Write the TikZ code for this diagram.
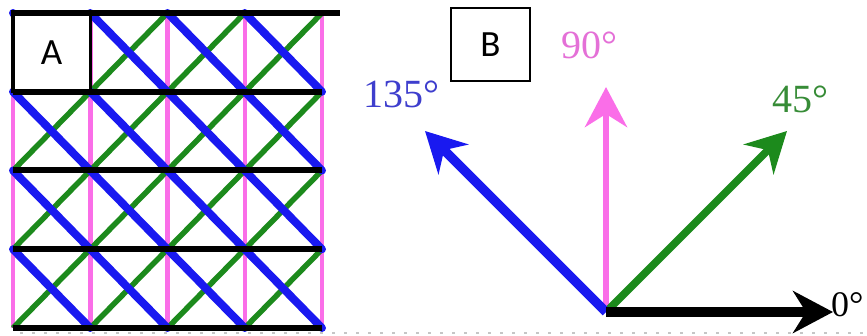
\documentclass[tikz,border=0pt]{standalone}
\usepackage{fontspec}
\setmainfont{Liberation Serif}
\newfontfamily\labelsans{Carlito}
\usetikzlibrary{arrows.meta}
\definecolor{gblue}{RGB}{25,25,240}
\definecolor{ggreen}{RGB}{28,138,28}
\definecolor{gpink}{RGB}{250,110,232}
\definecolor{lblue}{RGB}{62,62,205}
\definecolor{lgreen}{RGB}{55,140,55}
\definecolor{lpink}{RGB}{228,112,215}
\tikzset{
  pinkline/.style={gpink, line width=4.5pt},
  greenline/.style={ggreen, line width=5.5pt},
  blueline/.style={gblue, line width=8pt, line cap=round},
  blackline/.style={black, line width=6pt},
  letterbox/.style={draw=black, fill=white, inner sep=0pt, font=\labelsans\fontsize{37}{37}\selectfont},
  vec/.style={-{Stealth[length=40pt, width=42pt, inset=13pt]}},
  anglabel/.style={anchor=base west, inner sep=0pt, font=\fontsize{40}{40}\selectfont},
  faint/.style={gray!45, line width=1.2pt, dash pattern=on 3pt off 9pt}
}
\begin{document}
\begin{tikzpicture}[x=1pt, y=-1pt]
\useasboundingbox (0,0) rectangle (867,336);

% ---------- Panel A: lattice ----------
\begin{scope}[shift={(13pt,-13pt)}, x=77.25pt, y=-78.75pt]
  \foreach \i in {0,1,2,3,4} {
    \draw[pinkline] (\i,0) -- (\i,4);
  }
  % 45 degree (green) lines: i + j = const
  \foreach \a/\b/\c/\d in {0/1/1/0, 0/2/2/0, 0/3/3/0, 0/4/4/0, 1/4/4/1, 2/4/4/2, 3/4/4/3} {
    \draw[greenline] (\a,\b) -- (\c,\d);
  }
  % 135 degree (blue) lines: i - j = const
  \foreach \a/\b/\c/\d in {3/0/4/1, 2/0/4/2, 1/0/4/3, 0/0/4/4, 0/1/3/4, 0/2/2/4, 0/3/1/4} {
    \draw[blueline] (\a,\b) -- (\c,\d);
  }
  \node[letterbox, line width=3.5pt, minimum width=77.25pt, minimum height=78.75pt] (boxA) at (0.5,0.5) {A};
  \coordinate (topL) at (-0.02,0);
  \coordinate (topR) at (4.23,0);
  \draw[blackline] (topL) -- (topR);
  \foreach \j in {1,2,3,4} {
    \draw[blackline] (0,\j) -- (4,\j);
  }
\end{scope}

% faint marks along the bottom edge
\coordinate (fl) at (20,333);
\coordinate (fr) at (867,333);
\draw[faint] (fl) -- (fr);

% ---------- Panel B: orientation vectors ----------
\node[letterbox, line width=2.2pt, minimum width=79pt, minimum height=73pt] (boxB) at (490.5,44.5) {B};

\coordinate (O) at (606,312);
\coordinate (T0) at (833,312);
\coordinate (T90) at (606,87);
\coordinate (T45) at (787,131);
\coordinate (T135) at (425,131);

\draw[vec, gpink, line width=6.5pt] (O) -- (T90);
\draw[vec, ggreen, line width=7.5pt] (O) -- (T45);
\draw[vec, gblue, line width=9.5pt] (O) -- (T135);
\draw[vec, black, line width=9.5pt] (O) -- (T0);

\node[anglabel, text=lblue] (l135) at (363,108) {135°};
\node[anglabel, text=lpink] (l90) at (561,59) {90°};
\node[anglabel, text=lgreen] (l45) at (772,113) {45°};
\node[anglabel, font=\fontsize{36}{36}\selectfont] (l0) at (831,317) {0°};
\end{tikzpicture}
\end{document}
